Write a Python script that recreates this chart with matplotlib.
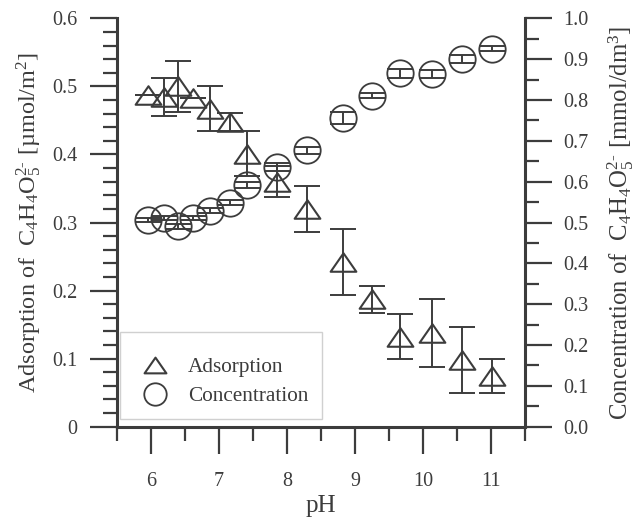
import numpy as np
import matplotlib
matplotlib.use("Agg")
import matplotlib.pyplot as plt
from matplotlib.path import Path
from matplotlib.patches import Rectangle
from matplotlib.ticker import MultipleLocator, FixedLocator

# data
ph = [5.95, 6.19, 6.40, 6.62, 6.87, 7.16, 7.41, 7.86, 8.29, 8.82, 9.25, 9.66, 10.13, 10.58, 11.02]
adsorption = [0.487, 0.485, 0.500, 0.483, 0.467, 0.448, 0.401, 0.360, 0.320, 0.242, 0.187, 0.132, 0.137, 0.098, 0.075]
adsorption_err = [0.000, 0.028, 0.037, 0.000, 0.033, 0.013, 0.033, 0.023, 0.034, 0.049, 0.020, 0.033, 0.050, 0.048, 0.025]
concentration = [0.506, 0.510, 0.491, 0.510, 0.529, 0.548, 0.592, 0.636, 0.677, 0.756, 0.810, 0.865, 0.863, 0.900, 0.926]
concentration_err = [0.005, 0.005, 0.006, 0.005, 0.006, 0.006, 0.008, 0.010, 0.009, 0.014, 0.006, 0.010, 0.010, 0.010, 0.006]

# styling
ink = "#3c3c3c"
plt.rcParams["font.family"] = ["Liberation Serif", "DejaVu Serif"]
plt.rcParams["mathtext.fontset"] = "custom"
plt.rcParams["mathtext.rm"] = "Liberation Serif"
plt.rcParams["mathtext.it"] = "Liberation Serif:italic"
plt.rcParams["text.color"] = ink
plt.rcParams["axes.labelcolor"] = ink

# flattened triangle marker
tri = Path([(-1, -0.72), (1, -0.72), (0, 0.72), (-1, -0.72)],
           [Path.MOVETO, Path.LINETO, Path.LINETO, Path.CLOSEPOLY])

fig = plt.figure(figsize=(6.37, 5.2), dpi=100)
ax = fig.add_axes([0.1837, 0.1794, 0.6403, 0.7854])
ax2 = ax.twinx()

ax.errorbar(ph, adsorption, yerr=adsorption_err, fmt="none", ecolor=ink,
            elinewidth=1.4, capsize=9.5, capthick=1.4, zorder=2)
ax.plot(ph, adsorption, linestyle="none", marker=tri, markersize=18.5,
        markerfacecolor="none", markeredgecolor=ink, markeredgewidth=1.5,
        label="Adsorption", zorder=3)

ax2.errorbar(ph, concentration, yerr=concentration_err, fmt="none", ecolor=ink,
             elinewidth=1.4, capsize=9.5, capthick=1.4, zorder=2)
ax2.plot(ph, concentration, linestyle="none", marker="o", markersize=19,
         markerfacecolor="none", markeredgecolor=ink, markeredgewidth=1.3,
         label="Concentration", zorder=3)

ax.set_xlim(5.5, 11.5)
ax.set_ylim(0, 0.6)
ax2.set_ylim(0, 1.0)

for a in (ax, ax2):
    a.spines["top"].set_visible(False)
    for s in a.spines.values():
        s.set_linewidth(2.2)
        s.set_color(ink)
ax.spines["right"].set_visible(False)
ax2.spines["left"].set_visible(False)
ax2.spines["bottom"].set_visible(False)

ax.xaxis.set_major_locator(FixedLocator([6, 7, 8, 9, 10, 11]))
ax.xaxis.set_minor_locator(FixedLocator([5.5, 6.5, 7.5, 8.5, 9.5, 10.5, 11.5]))
ax.yaxis.set_major_locator(FixedLocator([0, 0.1, 0.2, 0.3, 0.4, 0.5, 0.6]))
ax.set_yticklabels(["0", "0.1", "0.2", "0.3", "0.4", "0.5", "0.6"])
ax.yaxis.set_minor_locator(MultipleLocator(0.02))
ax2.yaxis.set_major_locator(MultipleLocator(0.1))
ax2.yaxis.set_minor_locator(MultipleLocator(0.05))
ax2.yaxis.set_major_formatter(plt.FormatStrFormatter("%.1f"))

ax.tick_params(axis="both", which="major", direction="out", length=19.5, width=1.6,
               color=ink, labelcolor=ink, labelsize=14.5)
ax.tick_params(axis="both", which="minor", direction="out", length=10, width=1.6, color=ink)
ax.tick_params(axis="x", which="major", pad=13)
ax.tick_params(axis="y", which="major", pad=9)
ax2.tick_params(axis="y", which="major", direction="out", length=19.5, width=1.6,
                color=ink, labelcolor=ink, labelsize=14.5, pad=8)
ax2.tick_params(axis="y", which="minor", direction="out", length=10, width=1.6, color=ink)

ax.set_xlabel("pH", fontsize=18, labelpad=3)
ax.set_ylabel(r"Adsorption of  C$_4$H$_4$O$_5^{2\text{-}}$ [µmol/m$^2$]", fontsize=17.5, labelpad=6)
ax2.set_ylabel(r"Concentration of  C$_4$H$_4$O$_5^{2\text{-}}$ [mmol/dm$^3$]", fontsize=17.8,
               labelpad=12, rotation=90)

# legend: frame drawn separately, entries placed inside it
ax2.add_patch(Rectangle((0.0074, 0.019), 0.495, 0.212, transform=ax2.transAxes,
                        facecolor="white", edgecolor="#d0d0d0", linewidth=1.0, zorder=4))
h1, l1 = ax.get_legend_handles_labels()
h2, l2 = ax2.get_legend_handles_labels()
leg = ax2.legend(h1 + h2, l1 + l2, loc="center left", bbox_to_anchor=(0.025, 0.11),
                 fontsize=15.3, frameon=False, borderpad=0, markerscale=0.85,
                 handletextpad=0.75, labelspacing=0.42, handlelength=1.6)
leg.set_zorder(5)

plt.savefig("out.png", dpi=100)
